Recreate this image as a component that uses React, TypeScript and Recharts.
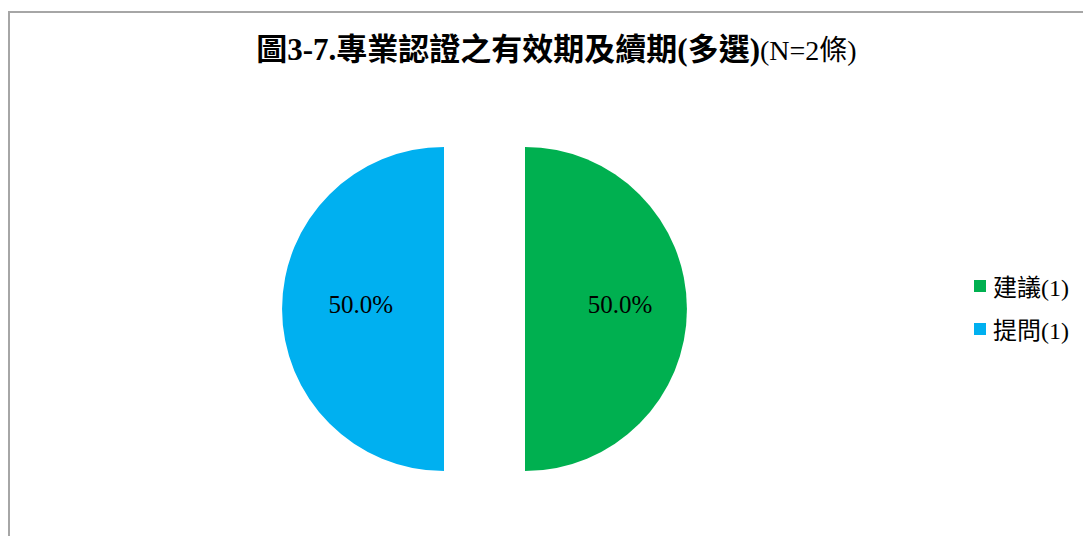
import React from 'react';
import { PieChart, Pie, Cell, Sector, Legend } from 'recharts';

const CATEGORIES = ['建議', '提問'];
const COUNTS = [1, 1];
const COLORS = ['#00B050', '#00B0F0'];

const TITLE_MAIN = '圖3-7.專業認證之有效期及續期(多選)';
const TITLE_SUB = '(N=2條)';

const data = CATEGORIES.map((name, i) => ({ name, value: COUNTS[i] }));

const EXPLODE = 40.5;
const RADIAN = Math.PI / 180;
const FONT = '"Times New Roman", "Liberation Serif", "Noto Sans CJK TC", serif';

const offsetOf = (midAngle: number) => ({
  dx: Math.cos(-midAngle * RADIAN) * EXPLODE,
  dy: Math.sin(-midAngle * RADIAN) * EXPLODE,
});

// pull each slice out along its middle angle
const ExplodedSector = (props: any) => {
  const { cx, cy, midAngle } = props;
  const { dx, dy } = offsetOf(midAngle);
  return <Sector {...props} cx={cx + dx} cy={cy + dy} stroke="none" />;
};

const renderLabel = (props: any) => {
  const { cx, cy, midAngle, outerRadius, percent } = props;
  const { dx, dy } = offsetOf(midAngle);
  const r = outerRadius * 0.55;
  const x = cx + dx + Math.cos(-midAngle * RADIAN) * r;
  const y = cy + dy + Math.sin(-midAngle * RADIAN) * r;
  return (
    <text
      x={x + 6}
      y={y - 5}
      fill="#000"
      textAnchor="middle"
      dominantBaseline="central"
      style={{ fontFamily: FONT, fontSize: 25 }}
    >
      {(percent * 100).toFixed(1)}%
    </text>
  );
};

const renderLegend = () => (
  <div style={{ fontFamily: FONT, fontSize: 24, color: '#000' }}>
    {CATEGORIES.map((name, i) => (
      <div key={name} style={{ display: 'flex', alignItems: 'center', height: 43 }}>
        <span style={{ width: 12, height: 12, background: COLORS[i], marginRight: 7, display: 'inline-block' }} />
        <span>{`${name}(${COUNTS[i]})`}</span>
      </div>
    ))}
  </div>
);

export default function App() {
  return (
    <div style={{ position: 'relative', width: 1083, height: 528, overflow: 'hidden' }}>
      <div
        style={{
          position: 'absolute',
          left: 0,
          top: 3,
          width: 1083,
          height: 525,
          borderTop: '2px solid #a6a6a6',
          borderLeft: '2px solid #a6a6a6',
          boxSizing: 'border-box',
        }}
      />
      <div
        style={{
          position: 'absolute',
          left: 0,
          top: 22,
          width: 1097,
          textAlign: 'center',
          fontFamily: FONT,
          color: '#000',
          whiteSpace: 'nowrap',
          lineHeight: '40px',
        }}
      >
        <span style={{ fontSize: 31, fontWeight: 'bold' }}>{TITLE_MAIN}</span>
        <span style={{ fontSize: 28 }}>{TITLE_SUB}</span>
      </div>
      <div style={{ position: 'absolute', left: 0, top: 0 }}>
        <PieChart width={1083} height={528}>
          <Pie
            data={data}
            dataKey="value"
            nameKey="name"
            cx={471.5}
            cy={296}
            outerRadius={162}
            startAngle={90}
            endAngle={-270}
            stroke="none"
            label={renderLabel}
            labelLine={false}
            shape={ExplodedSector}
            activeShape={ExplodedSector}
            isAnimationActive={false}
          >
            {data.map((d, i) => (
              <Cell key={d.name} fill={COLORS[i]} />
            ))}
          </Pie>
          <Legend
            content={renderLegend}
            wrapperStyle={{ position: 'absolute', left: 966, top: 256, width: 120 }}
          />
        </PieChart>
      </div>
    </div>
  );
}
